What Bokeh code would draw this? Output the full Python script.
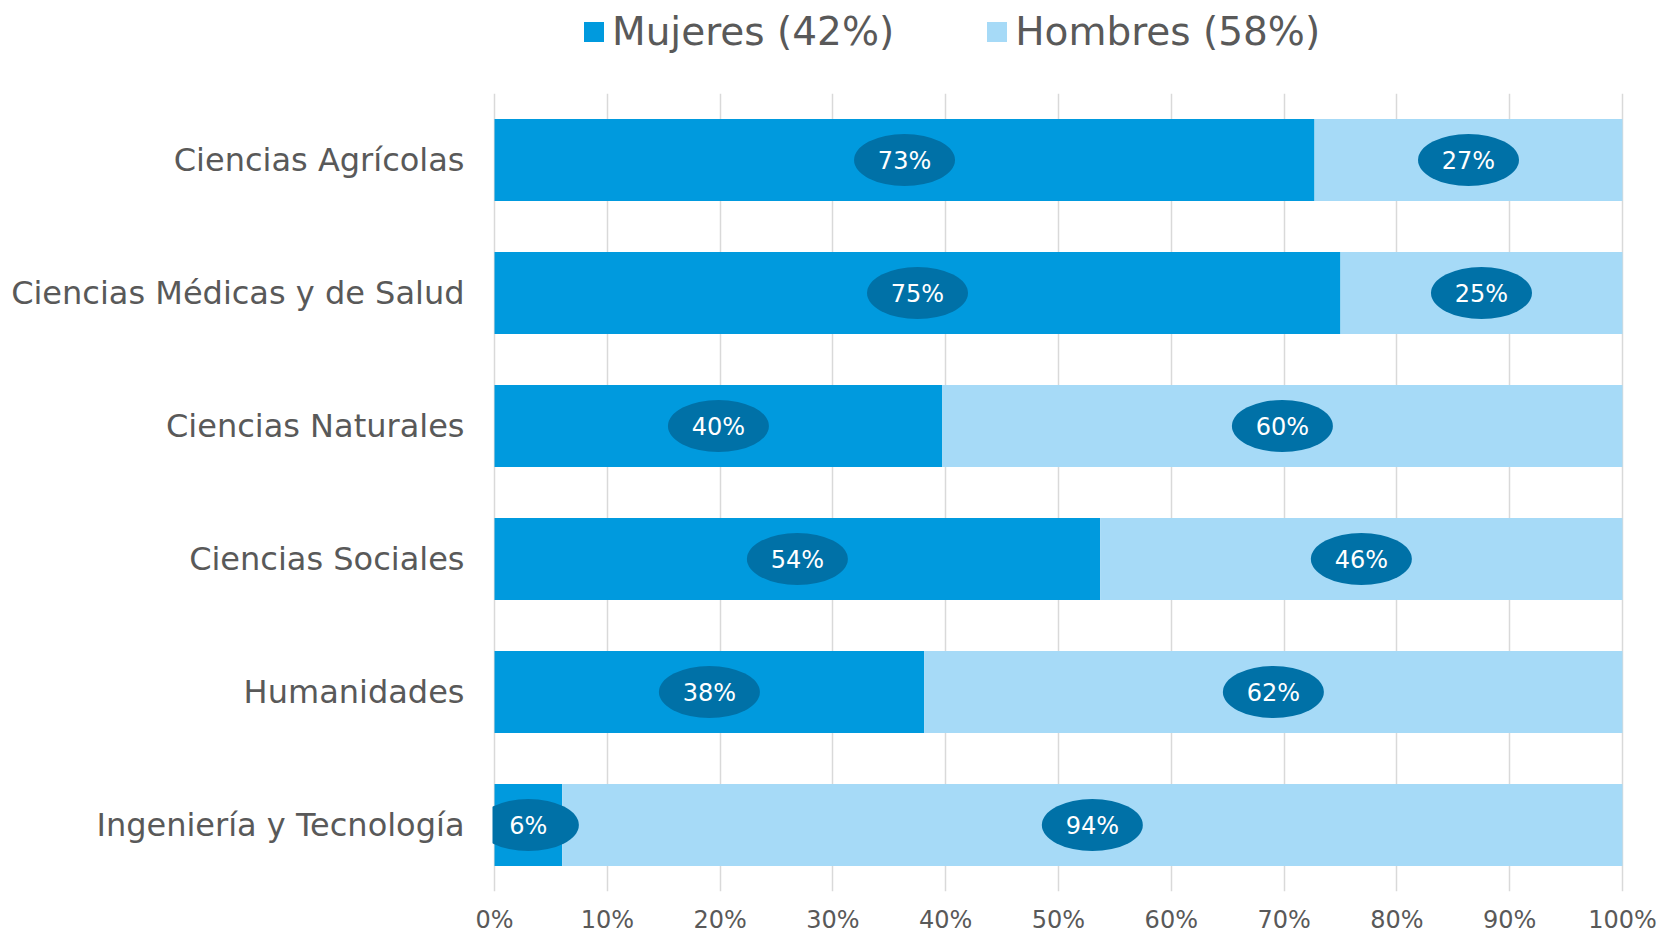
from bokeh.plotting import figure
from bokeh.layouts import column
from bokeh.models import FactorRange, Range1d, FixedTicker, Legend, LegendItem, ColumnDataSource
from bokeh.embed import file_html
from bokeh.resources import INLINE
from bokeh.core.properties import value

categories = ["Ciencias Agrícolas", "Ciencias Médicas y de Salud", "Ciencias Naturales",
              "Ciencias Sociales", "Humanidades", "Ingeniería y Tecnología"]
mujeres = [72.7, 75.0, 39.7, 53.7, 38.1, 6.0]
hombres = [27.3, 25.0, 60.3, 46.3, 61.9, 94.0]
mujeres_labels = ["73%", "75%", "40%", "54%", "38%", "6%"]
hombres_labels = ["27%", "25%", "60%", "46%", "62%", "94%"]
tick_values = [0, 10, 20, 30, 40, 50, 60, 70, 80, 90, 100]
tick_labels = ["0%", "10%", "20%", "30%", "40%", "50%", "60%", "70%", "80%", "90%", "100%"]
legend_labels = ["Mujeres (42%)", "Hombres (58%)"]

C_M = "#009ADE"
C_H = "#A6DAF7"
C_BADGE = "#0071A7"
C_TEXT = "#595959"
FONT = "DejaVu Sans"

src = ColumnDataSource(dict(
    cat=categories,
    m_end=[m for m in mujeres],
    h_end=[m + h for m, h in zip(mujeres, hombres)],
    m_mid=[m / 2 for m in mujeres],
    h_mid=[m + h / 2 for m, h in zip(mujeres, hombres)],
    m_lab=mujeres_labels,
    h_lab=hombres_labels,
))

# ---- legend strip (top) ----
top = figure(width=1662, height=93, output_backend="svg", toolbar_location=None,
             x_range=Range1d(0, 1), y_range=Range1d(0, 1))
top.min_border = 0
top.outline_line_color = None
top.axis.visible = False
top.grid.visible = False
# legend-only proxies (kept outside the visible range)
proxy = ColumnDataSource(dict(y=[-5], l=[0], r=[0]))
lm = top.hbar(y="y", left="l", right="r", height=1, source=proxy, fill_color=C_M, line_color=None)
lh = top.hbar(y="y", left="l", right="r", height=1, source=proxy, fill_color=C_H, line_color=None)
legend = Legend(items=[LegendItem(label=legend_labels[0], renderers=[lm]),
                       LegendItem(label=legend_labels[1], renderers=[lh])],
                location=(89, 39), orientation="horizontal",
                glyph_width=25, glyph_height=25, label_standoff=6, spacing=90,
                padding=0, margin=0, border_line_color=None,
                background_fill_alpha=0,
                label_text_font=FONT, label_text_font_size="39px",
                label_text_color=C_TEXT)
top.add_layout(legend, "center")

# ---- main chart ----
p = figure(width=1662, height=843, output_backend="svg", toolbar_location=None,
           y_range=FactorRange(factors=list(reversed(categories)), range_padding=0),
           x_range=Range1d(-0.18, 100.18))
p.min_border_left = 492
p.min_border_right = 38
p.min_border_top = 0
p.min_border_bottom = 44
p.outline_line_color = None
p.background_fill_color = "white"

r_m = p.hbar(y="cat", left=0, right="m_end", height=0.615, source=src,
             fill_color=C_M, line_color=None)
r_h = p.hbar(y="cat", left="m_end", right="h_end", height=0.615, source=src,
             fill_color=C_H, line_color=None)

for xcol, lcol in (("m_mid", "m_lab"), ("h_mid", "h_lab")):
    p.ellipse(x=xcol, y="cat", width=101, height=52, width_units="screen",
              height_units="screen", source=src, fill_color=C_BADGE, line_color=None)
    p.text(x=xcol, y="cat", text=lcol, source=src, text_align="center",
           text_baseline="middle", text_color="white",
           text_font=value(FONT), text_font_size="24px", y_offset=1)

p.xgrid.ticker = FixedTicker(ticks=tick_values)
p.xgrid.grid_line_color = "#D9D9D9"
p.xgrid.grid_line_width = 1.5
p.ygrid.grid_line_color = None

p.xaxis.ticker = FixedTicker(ticks=tick_values)
p.xaxis.major_label_overrides = {v: l for v, l in zip(tick_values, tick_labels)}
for ax in (p.xaxis, p.yaxis):
    ax.axis_line_color = None
    ax.major_tick_line_color = None
    ax.minor_tick_line_color = None
    ax.major_tick_out = 0
    ax.major_tick_in = 0
    ax.major_label_text_font = FONT
    ax.major_label_text_color = C_TEXT
p.xaxis.major_label_text_font_size = "24px"
p.xaxis.major_label_standoff = 14
p.yaxis.major_label_text_font_size = "32px"
p.yaxis.major_label_standoff = 28

layout = column(top, p, spacing=0)
open("out.html", "w").write(file_html(layout, INLINE))
